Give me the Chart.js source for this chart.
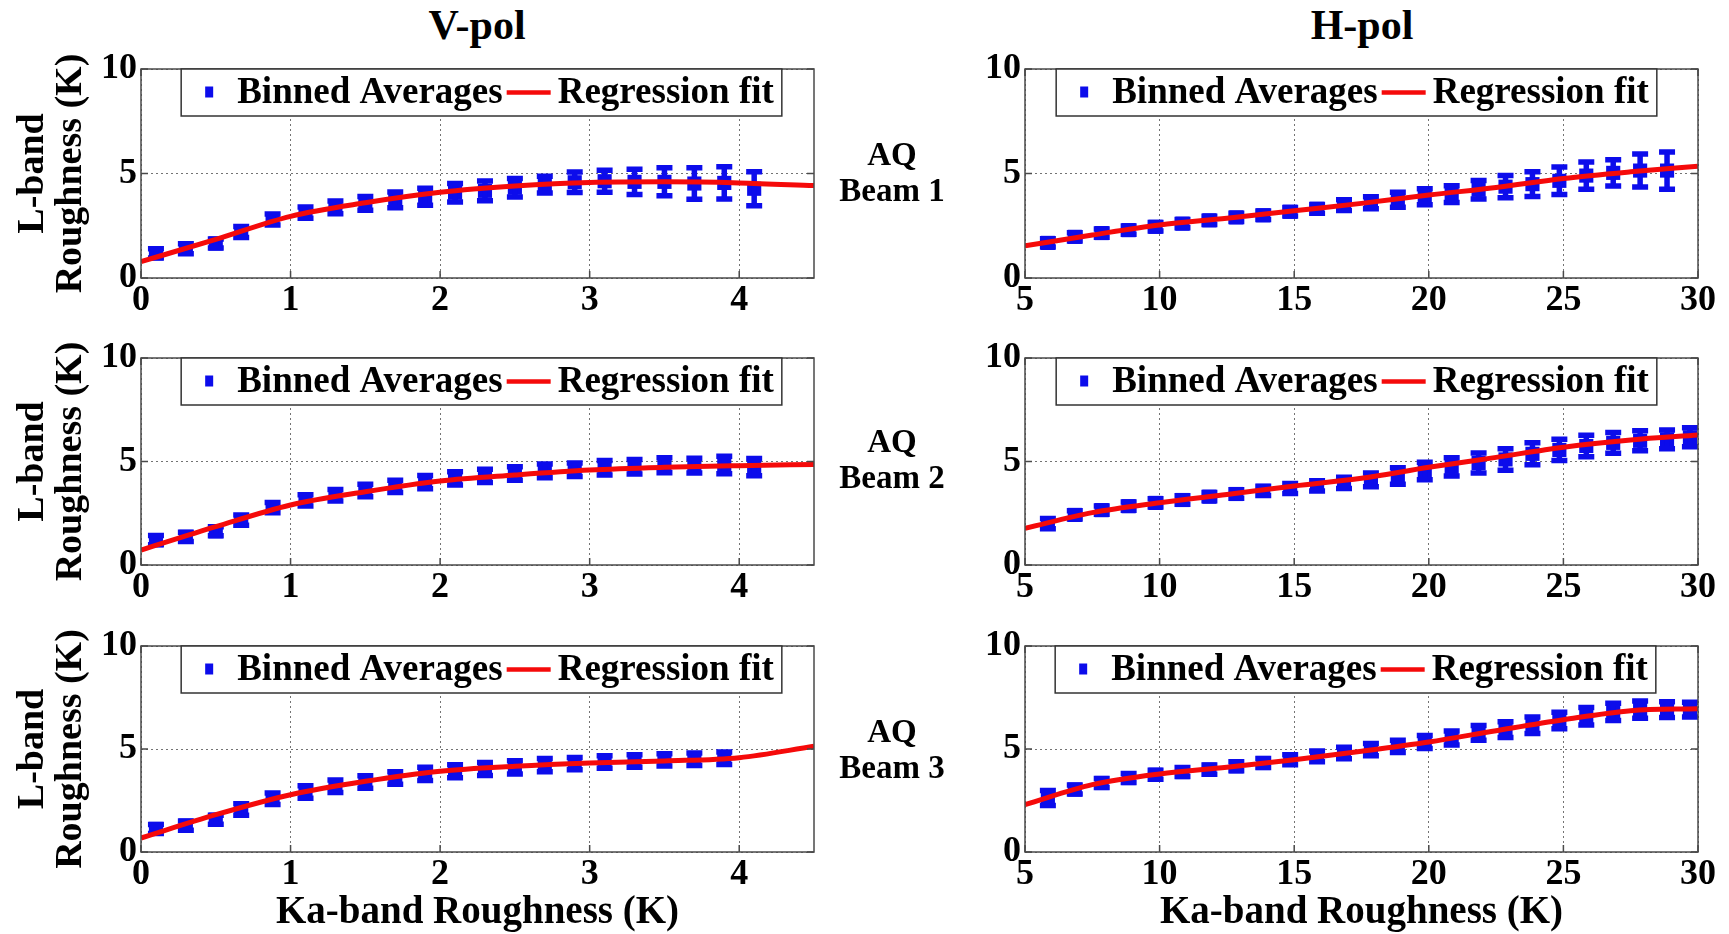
<!DOCTYPE html>
<html>
<head>
<meta charset="utf-8">
<script src="https://cdn.jsdelivr.net/npm/chart.js@4.4.1/dist/chart.umd.min.js"></script>
<style>
  html, body { margin: 0; padding: 0; background: #fff; }
  body { width: 1729px; height: 934px; position: relative; overflow: hidden;
         font-family: "Liberation Serif", "Times New Roman", serif; font-weight: bold; color: #000; }
  canvas { position: absolute; }
  .colTitle { position: absolute; top: 3px; width: 300px; text-align: center; font-size: 42px; line-height: 44px; }
  .beam { position: absolute; left: 822px; width: 140px; text-align: center; font-size: 33px; line-height: 36px; z-index: 2; }
</style>
</head>
<body>
<div class="colTitle" style="left:327px">V-pol</div>
<div class="colTitle" style="left:1212px">H-pol</div>
<div class="beam" style="top:136px">AQ<br>Beam 1</div>
<div class="beam" style="top:423px">AQ<br>Beam 2</div>
<div class="beam" style="top:713px">AQ<br>Beam 3</div>

<script>
// bin centres (Ka-band roughness, K)
const vpolBins = [0.1, 0.3, 0.5, 0.67, 0.88, 1.1, 1.3, 1.5, 1.7, 1.9, 2.1, 2.3, 2.5, 2.7, 2.9, 3.1, 3.3, 3.5, 3.7, 3.9, 4.1];
const hpolBins = [5.85, 6.85, 7.85, 8.85, 9.85, 10.85, 11.85, 12.85, 13.85, 14.85, 15.85, 16.85, 17.85, 18.85, 19.85, 20.85, 21.85, 22.85, 23.85, 24.85, 25.85, 26.85, 27.85, 28.85, 29.7];

// binned averages of L-band roughness (K) and error bar half lengths
const beam1V = [1.18, 1.4, 1.65, 2.2, 2.8, 3.13, 3.38, 3.57, 3.74, 3.89, 4.08, 4.17, 4.32, 4.47, 4.58, 4.63, 4.6, 4.6, 4.52, 4.55, 4.27];
const beam1VErr = [0.22, 0.24, 0.22, 0.26, 0.26, 0.27, 0.3, 0.33, 0.38, 0.41, 0.44, 0.47, 0.44, 0.4, 0.49, 0.53, 0.6, 0.67, 0.75, 0.77, 0.81];
const beam1H = [1.68, 1.97, 2.15, 2.29, 2.45, 2.6, 2.76, 2.9, 3.0, 3.17, 3.31, 3.49, 3.6, 3.74, 3.89, 4.01, 4.22, 4.37, 4.49, 4.65, 4.9, 5.03, 5.14, 5.14];
const beam1HErr = [0.2, 0.2, 0.2, 0.2, 0.2, 0.2, 0.2, 0.2, 0.2, 0.2, 0.21, 0.26, 0.29, 0.36, 0.38, 0.4, 0.44, 0.53, 0.59, 0.66, 0.65, 0.63, 0.79, 0.89];

const beam2V = [1.2, 1.36, 1.63, 2.17, 2.77, 3.12, 3.37, 3.6, 3.8, 4.0, 4.18, 4.3, 4.42, 4.55, 4.6, 4.7, 4.75, 4.82, 4.8, 4.83, 4.73];
const beam2VErr = [0.22, 0.22, 0.22, 0.25, 0.25, 0.27, 0.28, 0.3, 0.3, 0.32, 0.32, 0.32, 0.33, 0.33, 0.33, 0.35, 0.35, 0.36, 0.36, 0.42, 0.42];
const beam2H = [2.0, 2.42, 2.65, 2.84, 3.0, 3.14, 3.3, 3.43, 3.58, 3.7, 3.82, 3.97, 4.11, 4.3, 4.54, 4.74, 4.93, 5.1, 5.37, 5.56, 5.75, 5.9, 6.0, 6.07, 6.17];
const beam2HErr = [0.25, 0.2, 0.2, 0.2, 0.2, 0.2, 0.2, 0.2, 0.22, 0.24, 0.25, 0.27, 0.33, 0.4, 0.42, 0.44, 0.48, 0.52, 0.53, 0.51, 0.52, 0.5, 0.48, 0.45, 0.46];

const beam3V = [1.12, 1.28, 1.57, 2.06, 2.59, 2.91, 3.19, 3.4, 3.59, 3.79, 3.92, 4.03, 4.11, 4.22, 4.29, 4.37, 4.42, 4.47, 4.5, 4.55];
const beam3VErr = [0.22, 0.22, 0.22, 0.28, 0.28, 0.3, 0.3, 0.3, 0.3, 0.32, 0.32, 0.32, 0.32, 0.32, 0.3, 0.3, 0.3, 0.3, 0.3, 0.3];
const beam3H = [2.62, 3.03, 3.35, 3.59, 3.75, 3.88, 4.0, 4.16, 4.32, 4.48, 4.64, 4.81, 4.97, 5.13, 5.34, 5.53, 5.78, 5.94, 6.15, 6.38, 6.59, 6.8, 6.91, 6.91, 6.91];
const beam3HErr = [0.36, 0.22, 0.22, 0.22, 0.22, 0.22, 0.22, 0.22, 0.22, 0.24, 0.26, 0.28, 0.3, 0.3, 0.32, 0.34, 0.36, 0.38, 0.4, 0.4, 0.42, 0.42, 0.42, 0.38, 0.36];

const vpolFitX = [0, 0.5, 1, 1.5, 2, 2.5, 3, 3.5, 4, 4.5];
const hpolFitX = [5, 7.5, 10, 12.5, 15, 17.5, 20, 22.5, 25, 27.5, 30];
const fit1V = [0.78, 1.85, 2.95, 3.6, 4.1, 4.4, 4.57, 4.6, 4.55, 4.42];
const fit1H = [1.54, 2.06, 2.54, 2.86, 3.22, 3.57, 3.97, 4.33, 4.76, 5.08, 5.35];
const fit2V = [0.72, 1.85, 2.9, 3.54, 4.06, 4.35, 4.59, 4.72, 4.8, 4.86];
const fit2H = [1.77, 2.53, 3.01, 3.41, 3.82, 4.19, 4.72, 5.2, 5.69, 6.04, 6.28];
const fit3V = [0.68, 1.81, 2.78, 3.43, 3.92, 4.16, 4.32, 4.42, 4.58, 5.13];
const fit3H = [2.3, 3.27, 3.79, 4.11, 4.48, 4.89, 5.34, 5.89, 6.42, 6.86, 6.96];

// tick labels
const vpolTicks = [0, 1, 2, 3, 4];
const hpolTicks = [5, 10, 15, 20, 25, 30];
const yTicks = [0, 5, 10];

const legendLabels = ["Binned Averages", "Regression fit"];
const yTitle = ["L-band", "Roughness (K)"];
const xTitle = "Ka-band Roughness (K)";

const BLUE = "rgb(12,12,235)";
const RED = "rgb(245,10,10)";
const FONT = '"Liberation Serif", "Times New Roman", serif';

Chart.defaults.font.family = FONT;
Chart.defaults.font.weight = "bold";
Chart.defaults.color = "#000";

// vertical error bars, drawn through the chart's own scales
const errorBars = {
    id: "errorBars",
    afterDatasetDraw(chart, args) {
        const ds = chart.data.datasets[args.index];
        if (!ds.errors) return;
        const xs = chart.scales.x;
        const ys = chart.scales.y;
        const ctx = chart.ctx;
        ctx.save();
        ctx.strokeStyle = ds.backgroundColor;
        ctx.lineWidth = 5.5;
        ds.data.forEach((p, i) => {
            const px = xs.getPixelForValue(p.x);
            const lo = ys.getPixelForValue(p.y - ds.errors[i]);
            const hi = ys.getPixelForValue(p.y + ds.errors[i]);
            ctx.beginPath();
            ctx.moveTo(px, lo);
            ctx.lineTo(px, hi);
            ctx.moveTo(px - 8, lo);
            ctx.lineTo(px + 8, lo);
            ctx.moveTo(px - 8, hi);
            ctx.lineTo(px + 8, hi);
            ctx.stroke();
        });
        ctx.restore();
    }
};

// axes box with inward ticks and the legend inside the top of the plot
const boxAndLegend = {
    id: "boxAndLegend",
    afterDraw(chart, args, opts) {
        const ctx = chart.ctx;
        const ca = chart.chartArea;
        ctx.save();
        ctx.strokeStyle = "#4a4a4a";
        ctx.lineWidth = 1.5;
        ctx.strokeRect(ca.left, ca.top, ca.right - ca.left, ca.bottom - ca.top);
        ctx.beginPath();
        chart.scales.x.ticks.forEach((t) => {
            const px = chart.scales.x.getPixelForValue(t.value);
            ctx.moveTo(px, ca.bottom); ctx.lineTo(px, ca.bottom - 7);
            ctx.moveTo(px, ca.top); ctx.lineTo(px, ca.top + 7);
        });
        chart.scales.y.ticks.forEach((t) => {
            const py = chart.scales.y.getPixelForValue(t.value);
            ctx.moveTo(ca.left, py); ctx.lineTo(ca.left + 7, py);
            ctx.moveTo(ca.right, py); ctx.lineTo(ca.right - 7, py);
        });
        ctx.stroke();

        // legend
        ctx.font = "bold 37px " + FONT;
        const w1 = ctx.measureText(legendLabels[0]).width;
        const w2 = ctx.measureText(legendLabels[1]).width;
        const boxW = 6 + 44 + 6 + w1 + 4 + 44 + 7 + w2 + 8;
        const boxH = 47;
        const bx = (ca.left + ca.right) / 2 - boxW / 2 + (opts.shift || 0);
        const by = ca.top;
        const my = by + boxH / 2;
        ctx.fillStyle = "#fff";
        ctx.fillRect(bx, by, boxW, boxH);
        ctx.strokeStyle = "#333";
        ctx.strokeRect(bx, by, boxW, boxH);

        ctx.fillStyle = BLUE;
        ctx.fillRect(bx + 6 + 22 - 4, my - 6, 8, 11);

        ctx.fillStyle = "#000";
        ctx.textBaseline = "middle";
        ctx.textAlign = "left";
        let tx = bx + 56;
        ctx.fillText(legendLabels[0], tx, my + 1);
        tx += w1 + 4;
        ctx.strokeStyle = RED;
        ctx.lineWidth = 4.5;
        ctx.beginPath();
        ctx.moveTo(tx, my);
        ctx.lineTo(tx + 44, my);
        ctx.stroke();
        tx += 44 + 7;
        ctx.fillStyle = "#000";
        ctx.fillText(legendLabels[1], tx, my + 1);
        ctx.restore();
    }
};

// canvas placement and wanted plot areas
const panels = [
    { canvas: [0, 40, 840, 290], area: [141, 69, 814, 278], shift: 4, bins: vpolBins, vals: beam1V, errs: beam1VErr, fitX: vpolFitX, fitY: fit1V, xMin: 0, xMax: 4.5, xTicks: vpolTicks, left: true, bottom: false },
    { canvas: [870, 40, 859, 290], area: [1025, 69, 1698, 278], shift: -5, bins: hpolBins, vals: beam1H, errs: beam1HErr, fitX: hpolFitX, fitY: fit1H, xMin: 5, xMax: 30, xTicks: hpolTicks, left: false, bottom: false },
    { canvas: [0, 330, 840, 290], area: [141, 358, 814, 565], shift: 4, bins: vpolBins, vals: beam2V, errs: beam2VErr, fitX: vpolFitX, fitY: fit2V, xMin: 0, xMax: 4.5, xTicks: vpolTicks, left: true, bottom: false },
    { canvas: [870, 330, 859, 290], area: [1025, 358, 1698, 565], shift: -5, bins: hpolBins, vals: beam2H, errs: beam2HErr, fitX: hpolFitX, fitY: fit2H, xMin: 5, xMax: 30, xTicks: hpolTicks, left: false, bottom: false },
    { canvas: [0, 620, 840, 314], area: [141, 646, 814, 852], shift: 4, bins: vpolBins, vals: beam3V, errs: beam3VErr, fitX: vpolFitX, fitY: fit3V, xMin: 0, xMax: 4.5, xTicks: vpolTicks, left: true, bottom: true },
    { canvas: [870, 620, 859, 314], area: [1025, 646, 1698, 852], shift: -6, bins: hpolBins, vals: beam3H, errs: beam3HErr, fitX: hpolFitX, fitY: fit3H, xMin: 5, xMax: 30, xTicks: hpolTicks, left: false, bottom: true }
];

panels.forEach((p) => {
    const [cx, cy, cw, ch] = p.canvas;
    const [l, t, r, b] = p.area;
    const cv = document.createElement("canvas");
    cv.width = cw;
    cv.height = ch;
    cv.style.left = cx + "px";
    cv.style.top = cy + "px";
    document.body.appendChild(cv);

    const yWidth = l - cx;
    const xHeight = cy + ch - b;

    new Chart(cv, {
        type: "scatter",
        data: {
            datasets: [
                {
                    type: "line",
                    label: legendLabels[1],
                    data: p.fitX.map((x, i) => ({ x: x, y: p.fitY[i] })),
                    borderColor: RED,
                    borderWidth: 5,
                    pointRadius: 0,
                    cubicInterpolationMode: "monotone",
                    fill: false,
                    order: 0
                },
                {
                    label: legendLabels[0],
                    data: p.vals.map((v, i) => ({ x: p.bins[i], y: v })),
                    errors: p.errs,
                    pointStyle: "rect",
                    pointRadius: 10,
                    backgroundColor: BLUE,
                    borderColor: BLUE,
                    borderWidth: 0,
                    order: 1
                }
            ]
        },
        options: {
            responsive: false,
            animation: false,
            devicePixelRatio: 1,
            layout: { padding: { top: t - cy, right: cx + cw - r, left: 0, bottom: 0 } },
            plugins: {
                legend: { display: false },
                tooltip: { enabled: false },
                boxAndLegend: { shift: p.shift }
            },
            scales: {
                x: {
                    type: "linear",
                    min: p.xMin,
                    max: p.xMax,
                    afterBuildTicks: (s) => { s.ticks = p.xTicks.map((v) => ({ value: v })); },
                    afterFit: (s) => { s.height = xHeight; },
                    ticks: { font: { size: 36, lineHeight: 1 }, padding: 5, maxRotation: 0, autoSkip: false },
                    grid: { color: "rgba(0,0,0,0.55)", lineWidth: 1, drawTicks: false },
                    border: { display: false, dash: [2, 3] },
                    title: {
                        display: p.bottom,
                        text: xTitle,
                        font: { size: 39, lineHeight: 1 },
                        padding: { top: 0, bottom: 2 }
                    }
                },
                y: {
                    type: "linear",
                    min: 0,
                    max: 10,
                    afterBuildTicks: (s) => { s.ticks = yTicks.map((v) => ({ value: v })); },
                    afterFit: (s) => { s.width = yWidth; },
                    ticks: { font: { size: 36, lineHeight: 1 }, padding: 4 },
                    grid: { color: "rgba(0,0,0,0.55)", lineWidth: 1, drawTicks: false },
                    border: { display: false, dash: [2, 3] },
                    title: {
                        display: p.left,
                        text: yTitle,
                        font: { size: 38, lineHeight: 1 },
                        padding: { top: 14, bottom: 0 }
                    }
                }
            }
        },
        plugins: [errorBars, boxAndLegend]
    });
});
</script>
</body>
</html>
